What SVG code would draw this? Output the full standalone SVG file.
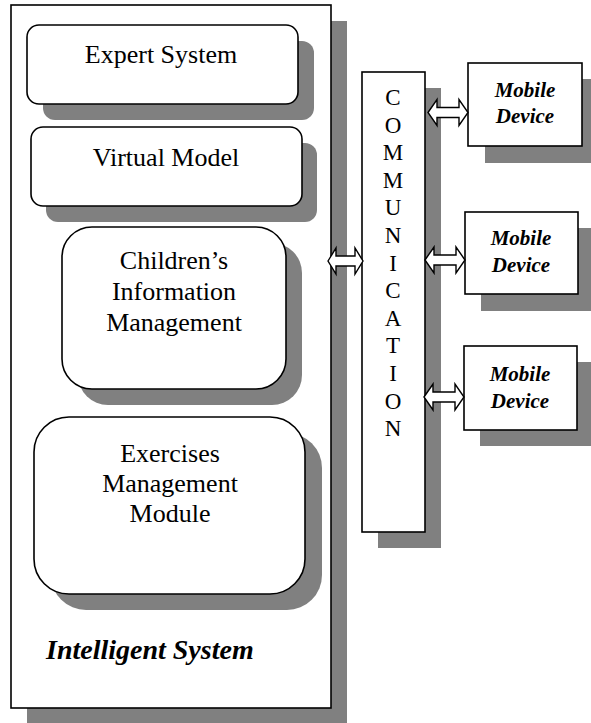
<svg xmlns="http://www.w3.org/2000/svg" width="591" height="723" viewBox="0 0 591 723">
<style>
.box{fill:#fff;stroke:#000;stroke-width:1.6}
.sh{fill:#808080}
.t{font-family:"Liberation Serif","Times New Roman",serif;font-size:26px;fill:#000;text-anchor:middle}
.bi{font-family:"Liberation Serif","Times New Roman",serif;font-weight:bold;font-style:italic;fill:#000}
.md{font-size:21px;text-anchor:middle}
.cm{font-family:"Liberation Serif","Times New Roman",serif;font-size:23px;fill:#000;text-anchor:middle}
.arr{fill:#fff;stroke:#000;stroke-width:1.4;stroke-linejoin:miter}
</style>
<rect width="591" height="723" fill="#fff"/>
<g id="intelligent-system">
<rect class="sh" x="27" y="21" width="320" height="702"/>
<rect class="box" x="11" y="5" width="320" height="703"/>
<text class="bi" x="46" y="659" font-size="28">Intelligent System</text>
</g>
<g id="expert-system">
<rect class="sh" x="43" y="41" width="271" height="79" rx="12"/>
<rect class="box" x="27" y="25" width="271" height="79" rx="12"/>
<text class="t" x="161" y="63">Expert System</text>
</g>
<g id="virtual-model">
<rect class="sh" x="46" y="143" width="271" height="79" rx="12"/>
<rect class="box" x="31" y="127" width="271" height="79" rx="12"/>
<text class="t" x="166" y="166">Virtual Model</text>
</g>
<g id="childrens-information">
<rect class="sh" x="78" y="243" width="224" height="162" rx="30"/>
<rect class="box" x="62" y="227" width="224" height="162" rx="30"/>
<text class="t" x="174" y="269">Children’s</text>
<text class="t" x="174" y="300">Information</text>
<text class="t" x="174" y="331">Management</text>
</g>
<g id="exercises-management">
<rect class="sh" x="51" y="433" width="271" height="177" rx="35"/>
<rect class="box" x="34" y="417" width="271" height="177" rx="35"/>
<text class="t" x="170" y="462">Exercises</text>
<text class="t" x="170" y="492">Management</text>
<text class="t" x="170" y="522">Module</text>
</g>
<g id="communication">
<rect class="sh" x="378" y="88" width="63" height="460"/>
<rect class="box" x="362" y="72" width="63" height="460"/>
<text class="cm" x="393" y="105">C</text>
<text class="cm" x="393" y="132.6">O</text>
<text class="cm" x="393" y="160.2">M</text>
<text class="cm" x="393" y="187.8">M</text>
<text class="cm" x="393" y="215.4">U</text>
<text class="cm" x="393" y="243">N</text>
<text class="cm" x="393" y="270.6">I</text>
<text class="cm" x="393" y="298.2">C</text>
<text class="cm" x="393" y="325.8">A</text>
<text class="cm" x="393" y="353.4">T</text>
<text class="cm" x="393" y="381">I</text>
<text class="cm" x="393" y="408.6">O</text>
<text class="cm" x="393" y="436.2">N</text>
</g>
<g id="mobile-device-1">
<rect class="sh" x="485" y="79" width="114" height="84"/>
<rect class="box" x="468" y="63" width="114" height="83"/>
<text class="bi md" x="525" y="97">Mobile</text>
<text class="bi md" x="525" y="123">Device</text>
</g>
<g id="mobile-device-2">
<rect class="sh" x="481" y="228" width="114" height="83"/>
<rect class="box" x="465" y="212" width="113" height="82"/>
<text class="bi md" x="521" y="245">Mobile</text>
<text class="bi md" x="521" y="272">Device</text>
</g>
<g id="mobile-device-3">
<rect class="sh" x="480" y="362" width="114" height="84"/>
<rect class="box" x="464" y="346" width="113" height="84"/>
<text class="bi md" x="520" y="381">Mobile</text>
<text class="bi md" x="520" y="408">Device</text>
</g>
<g id="connectors">
<path class="arr" d="M428,112.5 L437,99.5 L437,107.5 L459,107.5 L459,99.5 L468,112.5 L459,125.5 L459,117.5 L437,117.5 L437,125.5 Z"/>
<path class="arr" d="M425,260 L434,247 L434,255 L456,255 L456,247 L465,260 L456,273 L456,265 L434,265 L434,273 Z"/>
<path class="arr" d="M424,397 L433,384 L433,392 L455,392 L455,384 L464,397 L455,410 L455,402 L433,402 L433,410 Z"/>
<path class="arr" d="M328,261 L336,248 L336,256 L355,256 L355,248 L363,261 L355,274 L355,266 L336,266 L336,274 Z"/>
</g>
</svg>
